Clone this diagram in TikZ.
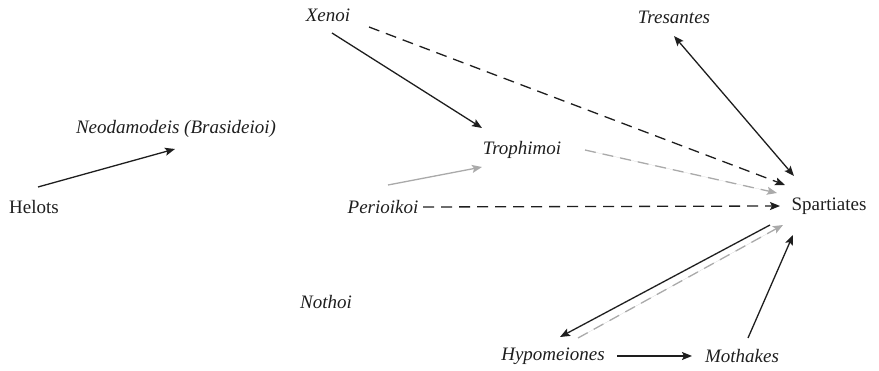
\documentclass[tikz,border=0pt]{standalone}
\usepackage{fontspec}
\setmainfont{Liberation Serif}
\usetikzlibrary{arrows.meta,calc}
\definecolor{ink}{HTML}{1E1E1E}
\definecolor{lgray}{HTML}{AAAAAA}
\tikzset{
  lbl/.style={inner sep=0pt, text=ink, font=\fontsize{19}{22}\selectfont\itshape},
  lblr/.style={inner sep=0pt, text=ink, font=\fontsize{19}{22}\selectfont},
  arr/.style={line width=1.3pt, draw=ink, -{Stealth[length=10pt,width=8pt,inset=2pt]}},
  garr/.style={arr, draw=lgray, fill=lgray},
  dsh/.style={dash pattern=on 11pt off 7pt},
}
\begin{document}
\begin{tikzpicture}[x=1pt,y=-1pt]
\useasboundingbox (0,0) rectangle (879,371);
\node[lblr] (helots) at (34,207) {Helots};
\node[lbl] (neo) at (176,129) {Neodamodeis (Brasideioi)};
\node[lbl] (xenoi) at (328,15) {Xenoi};
\node[lbl] (tresantes) at (674,17) {Tresantes};
\node[lbl] (trophimoi) at (522,150) {Trophimoi};
\node[lbl] (perioikoi) at (383,207) {Perioikoi};
\node[lblr] (spartiates) at (829,206) {Spartiates};
\node[lbl] (nothoi) at (326,302) {Nothoi};
\node[lbl] (hypo) at (553,356) {Hypomeiones};
\node[lbl] (mothakes) at (742,356) {Mothakes};

\draw[arr] ($(helots)+(4,-20)$) -- ($(neo)+(-1,20)$);
\draw[arr] ($(xenoi)+(4,18)$) -- ($(trophimoi)+(-40,-22)$);
\draw[arr,dsh] ($(xenoi)+(41,12)$) -- ($(spartiates)+(-44,-21)$);
\draw[arr,{Stealth[length=10pt,width=8pt,inset=2pt]}-{Stealth[length=10pt,width=8pt,inset=2pt]}] ($(tresantes)+(0,19)$) -- ($(spartiates)+(-35,-30)$);
\draw[garr,dsh] ($(trophimoi)+(63,0)$) -- ($(spartiates)+(-52,-13)$);
\draw[garr] ($(perioikoi)+(5,-22)$) -- ($(trophimoi)+(-40,17)$);
\draw[arr,dsh] ($(perioikoi)+(40,0)$) -- ($(spartiates)+(-49,0)$);
\draw[arr] ($(spartiates)+(-59,19)$) -- ($(hypo)+(7,-19)$);
\draw[garr,dsh] ($(hypo)+(25,-18)$) -- ($(spartiates)+(-46,19)$);
\draw[arr] ($(hypo)+(64,0)$) -- ($(mothakes)+(-50,0)$);
\draw[arr] ($(mothakes)+(6,-18)$) -- ($(spartiates)+(-36,29)$);
\end{tikzpicture}
\end{document}
